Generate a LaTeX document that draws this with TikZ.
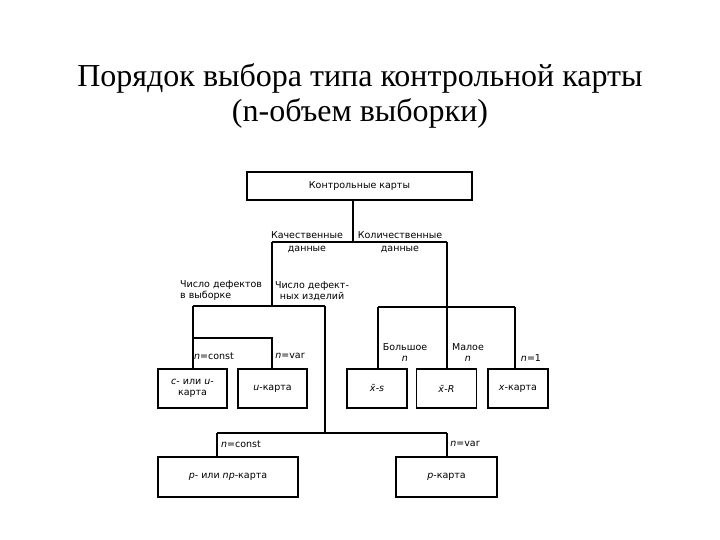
\documentclass[tikz,border=0pt]{standalone}
\usepackage{fontspec}
\setmainfont{Liberation Serif}
\newfontfamily\diagfont{DejaVu Sans}
\tikzset{
  box/.style={rectangle, draw=black, fill=white, line width=1.4pt,
    inner sep=2pt, align=center, font=\diagfont\fontsize{9.5}{11}\selectfont},
  lbl/.style={inner sep=0pt, align=center, font=\diagfont\fontsize{9.5}{11}\selectfont},
  line/.style={line width=1.2pt, color=black},
  ttl/.style={anchor=base, font=\fontsize{32}{36}\selectfont}
}

\begin{document}
\begin{tikzpicture}[x=1pt, y=-1pt]
  \useasboundingbox (0,0) rectangle (720,540);

  % Title
  \node (ttl1) at (360,87) [ttl] {Порядок выбора типа контрольной карты};
  \node (ttl2) at (360,122) [ttl] {(n-объем выборки)};

  % Boxes
  \node (karty) at (359.5,186) [box, minimum width=225pt, minimum height=28pt] {Контрольные карты};
  \node (cbox) at (192.5,388.5) [box, minimum width=69pt, minimum height=39pt] {\textit{c}- или \textit{u}-\\карта};
  \node (ubox) at (272.5,388.5) [box, minimum width=69pt, minimum height=39pt] {\textit{u}-карта};
  \node (xs) at (377,388.5) [box, minimum width=60pt, minimum height=39pt] {\textit{x̄}-\textit{s}};
  \node (xr) at (446.5,388.5) [box, minimum width=60pt, minimum height=39pt] {\textit{x̄}-\textit{R}};
  \node (xk) at (518,388.5) [box, minimum width=60pt, minimum height=39pt] {\textit{x}-карта};
  \node (pnp) at (228,477) [box, minimum width=140pt, minimum height=40pt] {\textit{p}- или \textit{np}-карта};
  \node (pk) at (446.5,477) [box, minimum width=101pt, minimum height=40pt] {\textit{p}-карта};

  % Junctions
  \coordinate (q) at (353,242);
  \coordinate (qL) at (272,242);
  \coordinate (qR) at (447,242);
  \coordinate (aM) at (272,306);
  \coordinate (aL) at (193,306);
  \coordinate (aR) at (325,306);
  \coordinate (bL) at (193,338);
  \coordinate (bR) at (272,338);
  \coordinate (dM) at (325,433);
  \coordinate (dL) at (217,433);
  \coordinate (dR) at (447,433);
  \coordinate (eL) at (378,307);
  \coordinate (eR) at (515,307);

  % Connectors
  \draw[line] (q |- karty.south) -- (q);
  \draw[line] (qL) -- (qR);
  \draw[line] (qL) -- (aM);
  \draw[line] (aL) -- (aR);
  \draw[line] (aL) -- (aL |- cbox.north);
  \draw[line] (bL) -- (bR) -- (bR |- ubox.north);
  \draw[line] (aR) -- (dM);
  \draw[line] (dL) -- (dR);
  \draw[line] (dL) -- (dL |- pnp.north);
  \draw[line] (dR) -- (dR |- pk.north);
  \draw[line] (qR) -- (qR |- xr.north);
  \draw[line] (eL) -- (eR);
  \draw[line] (eL) -- (eL |- xs.north);
  \draw[line] (eR) -- (eR |- xk.north);

  % Labels
  \node (kach) at (307,242) [lbl] {Качественные\\[2pt]данные};
  \node (kol) at (400,242) [lbl] {Количественные\\[2pt]данные};
  \node (defv) at (180,291) [lbl, anchor=west, align=left] {Число дефектов\\в выборке};
  \node (defi) at (312,291) [lbl] {Число дефект-\\ных изделий};
  \node (nc1) at (214,356) [lbl] {\textit{n}=const};
  \node (nv1) at (290,356) [lbl] {\textit{n}=var};
  \node (bolsh) at (405,353) [lbl] {Большое\\\textit{n}};
  \node (mal) at (468,353) [lbl] {Малое\\\textit{n}};
  \node (n1) at (531,358) [lbl] {\textit{n}=1};
  \node (nc2) at (241,444) [lbl] {\textit{n}=const};
  \node (nv2) at (465,444) [lbl] {\textit{n}=var};
\end{tikzpicture}
\end{document}
